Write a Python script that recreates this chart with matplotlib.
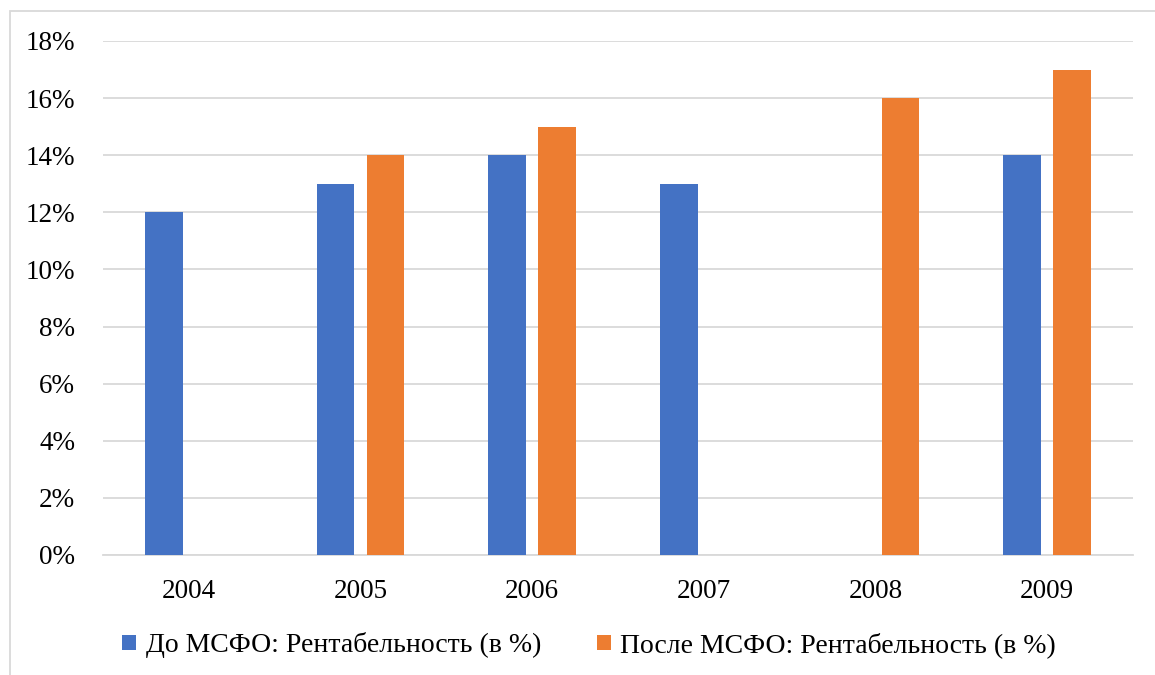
import numpy as np
import matplotlib.pyplot as plt
from matplotlib.patches import Rectangle

years = ["2004", "2005", "2006", "2007", "2008", "2009"]
do_msfo = [12, 13, 14, 13, 0, 14]
posle_msfo = [0, 14, 15, 0, 16, 17]

blue = "#4472C4"
orange = "#ED7D31"

plt.rcParams['font.family'] = ['Liberation Serif', 'DejaVu Serif']

fig = plt.figure(figsize=(11.55, 6.75), dpi=100)
ax = fig.add_axes([0.0892, 0.1778, 0.8918, 0.7615])

x = np.arange(len(years))
w = 0.22
ax.bar(x - 0.146, do_msfo, w, color=blue, label="До МСФО: Рентабельность (в %)", zorder=3)
ax.bar(x + 0.146, posle_msfo, w, color=orange, label="После МСФО: Рентабельность (в %)", zorder=3)

ax.set_ylim(0, 18)
ax.set_yticks(range(0, 19, 2))
ax.set_yticklabels([f"{v}%" for v in range(0, 19, 2)])
ax.set_xlim(-0.5, len(years) - 0.5)
ax.set_xticks(x)
ax.set_xticklabels(years)
ax.tick_params(axis='both', length=0, labelsize=19.5)
ax.tick_params(axis='y', pad=20)
ax.tick_params(axis='x', pad=17)
ax.grid(axis='y', color='#D9D9D9', linewidth=1.3, zorder=0)
for s in ['top', 'right', 'left']:
    ax.spines[s].set_visible(False)
ax.spines['bottom'].set_color('#D9D9D9')
ax.spines['bottom'].set_linewidth(1.3)

leg = fig.legend(loc='center', bbox_to_anchor=(0.510, 0.044), ncol=2, frameon=False,
                 fontsize=20, handlelength=0.5, handleheight=0.5, handletextpad=0.35,
                 columnspacing=2.0)

fig.patches.append(Rectangle((10 / 1155, -0.02), 1.02, 1 - 11 / 675 + 0.02,
                             transform=fig.transFigure, fill=False,
                             edgecolor='#D9D9D9', linewidth=1.3))

plt.savefig("out.png", dpi=100)
